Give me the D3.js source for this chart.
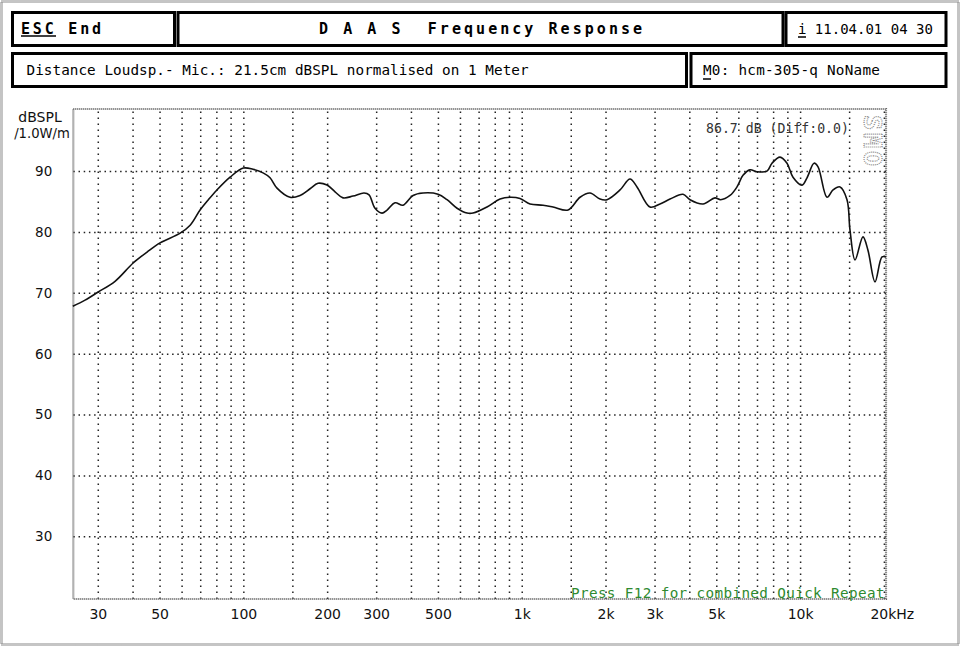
<!DOCTYPE html>
<html>
<head>
<meta charset="utf-8">
<script src="https://cdn.jsdelivr.net/npm/d3@7"></script>
<style>
  html, body { margin: 0; padding: 0; background: #fff; }
  svg { display: block; }
</style>
</head>
<body>
<svg id="chart" width="960" height="646"></svg>
<script>
// ---- data ----
const freqs = [24.4, 27, 30, 34.6, 40.2, 45.1, 50.2, 59.3, 64.4, 69.9, 74.9, 80.4, 89.6, 100, 108.3, 117.7, 124.7, 132.1, 147.2, 159.9, 173.6, 185.5, 199.8, 213.5, 228.1, 247.7, 271.4, 282.9, 297.2, 314.9, 328.3, 350.7, 374.7, 407, 442.2, 500.5, 539.2, 585.7, 636.2, 668.6, 750.5, 835.9, 907.8, 986, 1071, 1193, 1296, 1467, 1620, 1759, 1911, 2025, 2255, 2449, 2595, 2889, 3139, 3410, 3797, 4022, 4480, 4946, 5181, 5601, 5933, 6235, 6607, 7001, 7604, 7928, 8470, 8974, 9430, 10160, 10590, 11220, 11600, 12490, 13130, 13910, 14740, 15110, 15750, 16820, 17530, 18580, 19690, 20350];
const spl = [67.8, 68.8, 70.1, 71.9, 74.9, 76.7, 78.2, 79.8, 81.1, 83.6, 85.3, 86.9, 89.0, 90.5, 90.3, 89.7, 88.9, 87.2, 85.7, 86.0, 87.1, 88.0, 87.7, 86.6, 85.6, 85.9, 86.4, 86.1, 83.9, 83.1, 83.6, 84.8, 84.4, 86.0, 86.4, 86.2, 85.3, 83.9, 83.1, 83.1, 84.1, 85.4, 85.7, 85.5, 84.6, 84.4, 84.1, 83.6, 85.7, 86.4, 85.4, 85.3, 86.9, 88.7, 87.4, 84.1, 84.6, 85.4, 86.2, 85.3, 84.6, 85.6, 85.3, 86.0, 87.4, 89.3, 90.2, 89.9, 90.0, 91.3, 92.3, 91.3, 89.0, 87.7, 88.9, 91.3, 90.7, 85.7, 86.9, 87.4, 85.3, 80.3, 75.4, 79.2, 77.0, 71.8, 75.9, 75.9];

const yTicks = [30, 40, 50, 60, 70, 80, 90];
const xTickValues = [30, 50, 100, 200, 300, 500, 1000, 2000, 3000, 5000, 10000, 20000];
const xTickLabels = ["30", "50", "100", "200", "300", "500", "1k", "2k", "3k", "5k", "10k", "20kHz"];
const xGridValues = [30, 40, 50, 60, 70, 80, 90, 100, 150, 200, 300, 400, 500, 600, 700, 800, 900, 1000, 1500, 2000, 3000, 4000, 5000, 6000, 7000, 8000, 9000, 10000, 15000, 20000];
const xDomain = [24.5, 20350];
const yDomain = [19.7, 100.2];

const headerTitle = "D A A S  Frequency Response";
const infoLine = "Distance Loudsp.- Mic.: 21.5cm dBSPL normalised on 1 Meter";
const modelLine = "M0: hcm-305-q NoName";
const dateLine = "i 11.04.01 04 30";
const levelNote = "86.7 dB (Diff:0.0)";
const footNote = "Press F12 for combined Quick Repeat";

// ---- layout ----
const svg = d3.select("#chart");
const P = { left: 73.3, right: 886, top: 109, bottom: 599 };
const mono = "'DejaVu Sans Mono', monospace";
const sans = "'DejaVu Sans', sans-serif";

const x = d3.scaleLog().domain(xDomain).range([P.left, P.right]);
const y = d3.scaleLinear().domain(yDomain).range([P.bottom, P.top]);

// outer page frame
svg.append("rect").attr("x", 1.5).attr("y", 1.5).attr("width", 957).attr("height", 643)
  .attr("fill", "#fff").attr("stroke", "#8a8a8a").attr("stroke-width", 3).attr("stroke-dasharray", "1,1");

// header boxes
const boxes = [
  [12.5, 12.5, 162, 33], [178, 12.5, 605, 33], [786, 12.5, 160, 33],
  [12.5, 53.5, 674, 33], [691, 53.5, 255, 33]
];
svg.selectAll("rect.box").data(boxes).join("rect").attr("class", "box")
  .attr("x", d => d[0]).attr("y", d => d[1]).attr("width", d => d[2]).attr("height", d => d[3])
  .attr("fill", "#fff").attr("stroke", "#000").attr("stroke-width", 3);

function txt(s, xx, yy, opts = {}) {
  return svg.append("text").attr("x", xx).attr("y", yy).text(s)
    .attr("font-family", opts.family || mono)
    .attr("font-size", opts.size || 14)
    .attr("font-weight", opts.weight || "normal")
    .attr("letter-spacing", opts.ls || 0)
    .attr("fill", opts.fill || "#000")
    .attr("text-anchor", opts.anchor || "start");
}
txt("ESC End", 21, 33.5, { size: 15, weight: "bold", ls: 2.8 }).style("white-space", "pre");
svg.append("line").attr("x1", 21).attr("x2", 56).attr("y1", 36).attr("y2", 36).attr("stroke", "#000").attr("stroke-width", 1.5);
txt(headerTitle, 319, 34, { size: 15, weight: "bold", ls: 3.05 }).style("white-space", "pre");
txt(dateLine, 798, 33.5, { size: 14 }).style("white-space", "pre");
svg.append("line").attr("x1", 798).attr("x2", 806).attr("y1", 37).attr("y2", 37).attr("stroke", "#000").attr("stroke-width", 1.5);
txt(infoLine, 26.5, 75, { size: 14.3, ls: 0.05 });
txt(modelLine, 703, 75, { size: 14.3, ls: 0.25 });
svg.append("line").attr("x1", 703).attr("x2", 711).attr("y1", 79).attr("y2", 79).attr("stroke", "#000").attr("stroke-width", 1.5);

// grid
const grid = svg.append("g").attr("class", "grid");
grid.append("g").attr("transform", `translate(0,${P.bottom})`)
  .call(d3.axisBottom(x).tickValues(xGridValues).tickSize(-(P.bottom - P.top)).tickFormat(""))
  .call(g => g.select(".domain").remove())
  .call(g => g.selectAll("line").attr("stroke", "#222").attr("stroke-width", 1.5).attr("stroke-dasharray", "1.5,4.5"));
grid.append("g").attr("transform", `translate(${P.left},0)`)
  .call(d3.axisLeft(y).tickValues(yTicks).tickSize(-(P.right - P.left)).tickFormat(""))
  .call(g => g.select(".domain").remove())
  .call(g => g.selectAll("line").attr("stroke", "#222").attr("stroke-width", 1.5).attr("stroke-dasharray", "1.5,3.7"));

// plot frame
svg.append("rect").attr("x", P.left).attr("y", P.top).attr("width", P.right - P.left).attr("height", P.bottom - P.top)
  .attr("fill", "none").attr("stroke", "#666").attr("stroke-width", 2.2).attr("stroke-dasharray", "1,1");

// axis labels
svg.append("g").attr("transform", `translate(0,${P.bottom})`)
  .call(d3.axisBottom(x).tickValues(xTickValues).tickSize(0).tickPadding(10.5).tickFormat((d, i) => xTickLabels[i]))
  .call(g => g.select(".domain").remove())
  .call(g => g.selectAll("text").attr("font-family", sans).attr("font-size", 14).attr("fill", "#111"))
  .call(g => g.selectAll(".tick").filter(d => d === 20000).select("text").attr("text-anchor", "start").attr("x", -14));
svg.append("g").attr("transform", `translate(${P.left},0)`)
  .call(d3.axisLeft(y).tickValues(yTicks).tickSize(0).tickPadding(21))
  .call(g => g.select(".domain").remove())
  .call(g => g.selectAll("text").attr("font-family", sans).attr("font-size", 13.5).attr("fill", "#111"));

txt("dBSPL", 40, 122, { family: sans, size: 14, anchor: "middle", fill: "#111" });
txt("/1.0W/m", 42, 137.5, { family: sans, size: 13.2, anchor: "middle", fill: "#111" });

// notes
txt(levelNote, 706, 133, { size: 13.2, fill: "#333" });
svg.append("text").attr("transform", "translate(864,142) rotate(90)")
  .attr("text-anchor", "middle").attr("font-family", mono).attr("font-weight", "bold")
  .attr("font-size", 25).attr("letter-spacing", 3).attr("fill", "#fff")
  .attr("stroke", "#888").attr("stroke-width", 1.2).attr("stroke-dasharray", "1,1").text("SMO");
txt(footNote, 571, 597.5, { size: 14.3, fill: "#2f8a2f", ls: 0.36 }).style("white-space", "pre");

// curve
const line = d3.line().x((d, i) => x(freqs[i])).y(d => y(d)).curve(d3.curveCatmullRom.alpha(0.5));
svg.append("path").datum(spl).attr("d", line)
  .attr("fill", "none").attr("stroke", "#111").attr("stroke-width", 1.6).attr("stroke-linejoin", "round");
</script>
</body>
</html>
